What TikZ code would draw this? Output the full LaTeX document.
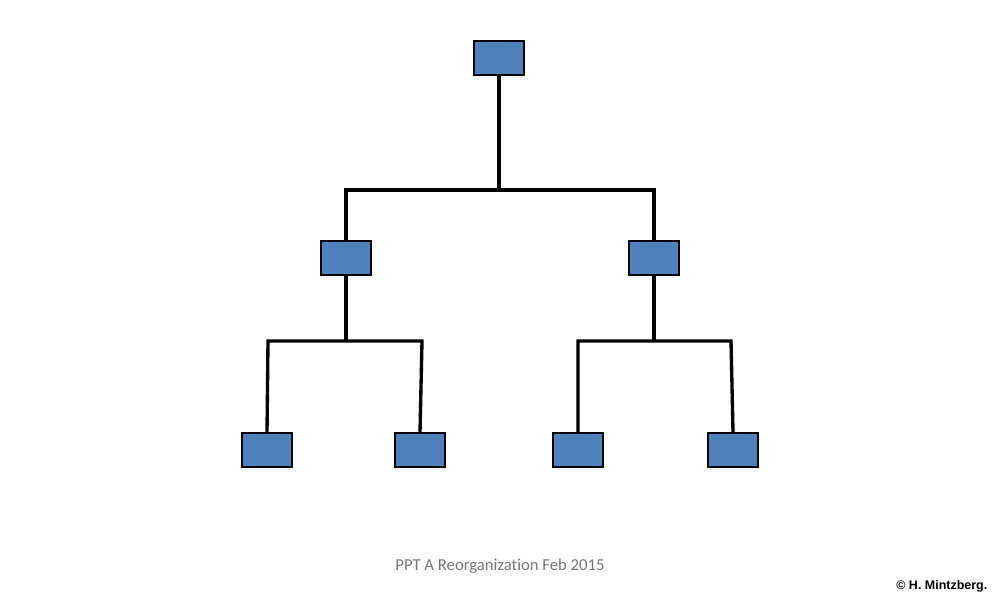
\documentclass[tikz,border=0pt]{standalone}
\usepackage{fontspec}
\setmainfont[Ligatures=NoCommon]{Carlito}
\newfontfamily\arialfont{Liberation Sans}
\definecolor{boxblue}{RGB}{79,129,189}
\definecolor{capgray}{RGB}{118,118,118}
\tikzset{
  unit/.style={draw=black,fill=boxblue,line width=0.6pt,minimum width=5mm,minimum height=3.4mm,inner sep=0pt},
  link/.style={line width=0.95pt}
}
\begin{document}
\begin{tikzpicture}
  \useasboundingbox (0,0) rectangle (10,6);
  % Boxes
  \node[unit] (top) at (4.99,5.42) {};
  \node[unit] (midl) at (3.46,3.42) {};
  \node[unit] (midr) at (6.54,3.42) {};
  \node[unit] (botll) at (2.67,1.50) {};
  \node[unit] (botlr) at (4.20,1.50) {};
  \node[unit] (botrl) at (5.78,1.50) {};
  \node[unit] (botrr) at (7.33,1.50) {};
  % Branch points
  \coordinate (bar) at (4.99,4.10);
  \coordinate (barl) at (3.46,2.59);
  \coordinate (barr) at (6.54,2.59);
  \coordinate (kll) at (2.68,2.59);
  \coordinate (klr) at (4.22,2.59);
  \coordinate (krl) at (5.78,2.59);
  \coordinate (krr) at (7.31,2.59);
  % Connectors
  \draw[link] (top.south) -- (bar);
  \draw[link] (midl.north) |- (bar) -| (midr.north);
  \draw[link] (midl.south) -- (barl);
  \draw[link] (midr.south) -- (barr);
  \draw[link] (botll.north) -- (kll) -- (klr) -- (botlr.north);
  \draw[link] (botrl.north) -- (krl) -- (krr) -- (botrr.north);
  % Captions
  \node[text=capgray,font=\fontsize{4.75}{5.5}\selectfont] (title) at (5.00,0.34) {PPT A Reorganization Feb 2015};
  \node[font=\arialfont\bfseries\fontsize{3.55}{4.2}\selectfont,anchor=east,inner sep=0pt] (credit) at (9.88,0.14) {© H. Mintzberg.};
\end{tikzpicture}
\end{document}
